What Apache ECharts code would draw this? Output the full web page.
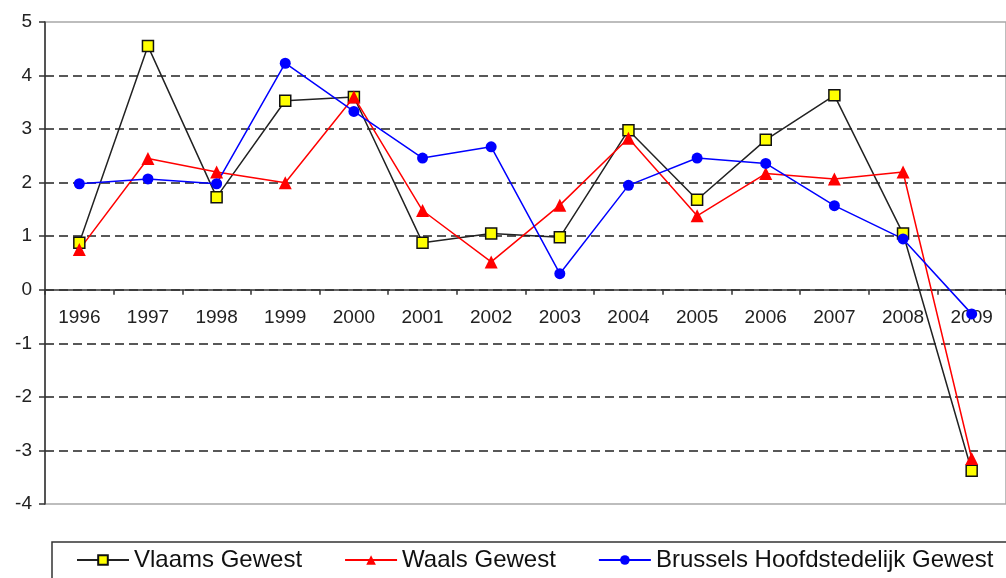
<!DOCTYPE html>
<html>
<head>
<meta charset="utf-8">
<script src="https://cdn.jsdelivr.net/npm/echarts@6/dist/echarts.min.js"></script>
<style>
html,body{margin:0;padding:0;background:#fff;}
#c{width:1006px;height:578px;}
</style>
</head>
<body>
<div id="c"></div>
<script>
const years = ['1996','1997','1998','1999','2000','2001','2002','2003','2004','2005','2006','2007','2008','2009'];
const vlaams = [0.88, 4.55, 1.73, 3.53, 3.6, 0.88, 1.05, 0.98, 2.98, 1.68, 2.8, 3.63, 1.05, -3.38];
const waals = [0.75, 2.45, 2.2, 2.0, 3.6, 1.48, 0.52, 1.58, 2.83, 1.38, 2.17, 2.07, 2.2, -3.15];
const brussels = [1.98, 2.07, 1.98, 4.23, 3.33, 2.46, 2.67, 0.3, 1.95, 2.46, 2.36, 1.57, 0.95, -0.45];
const seriesNames = ['Vlaams Gewest', 'Waals Gewest', 'Brussels Hoofdstedelijk Gewest'];

const FONT = '"Liberation Sans", Arial, sans-serif';
const chart = echarts.init(document.getElementById('c'), null, {renderer: 'canvas'});
chart.setOption({
  animation: false,
  backgroundColor: '#fff',
  textStyle: {fontFamily: FONT},
  grid: {
    left: 45, top: 22, bottom: 74, right: -12,
    show: true, borderColor: '#a8a8a8', borderWidth: 1.5, backgroundColor: 'transparent'
  },
  legend: {
    left: 52, top: 542,
    width: 960,
    padding: [6, 30, 40, 24],
    borderColor: '#333', borderWidth: 1.5,
    itemWidth: 52, itemHeight: 12, itemGap: 42,
    textStyle: {fontFamily: FONT, fontSize: 24, color: '#111'},
    data: seriesNames
  },
  xAxis: {
    type: 'category',
    data: years,
    boundaryGap: true,
    axisLine: {onZero: true, lineStyle: {color: '#333', width: 1.5}},
    axisTick: {show: true, length: 5, lineStyle: {color: '#333', width: 1.5}},
    axisLabel: {fontFamily: FONT, fontSize: 19, color: '#222', margin: -196, interval: 0},
    splitLine: {show: false}
  },
  yAxis: {
    type: 'value',
    min: -4, max: 5, interval: 1,
    axisLine: {show: true, lineStyle: {color: '#333', width: 1.5}},
    axisTick: {show: true, length: 6, lineStyle: {color: '#333', width: 1.5}},
    axisLabel: {fontFamily: FONT, fontSize: 19, color: '#222', margin: 13},
    splitLine: {
      show: true, showMinLine: false, showMaxLine: false,
      lineStyle: {color: '#222', width: 1.5, type: [9, 5]}
    }
  },
  series: [
    {
      name: seriesNames[0], type: 'line', data: vlaams,
      symbol: 'rect', symbolSize: 11,
      lineStyle: {color: '#222', width: 1.5},
      itemStyle: {color: '#ffff00', borderColor: '#111', borderWidth: 1.5},
      z: 3
    },
    {
      name: seriesNames[1], type: 'line', data: waals,
      symbol: 'triangle', symbolSize: 13,
      lineStyle: {color: '#ff0000', width: 1.5},
      itemStyle: {color: '#ff0000'},
      z: 3
    },
    {
      name: seriesNames[2], type: 'line', data: brussels,
      symbol: 'circle', symbolSize: 11,
      lineStyle: {color: '#0000ff', width: 1.5},
      itemStyle: {color: '#0000ff'},
      z: 3
    }
  ]
});
</script>
</body>
</html>
